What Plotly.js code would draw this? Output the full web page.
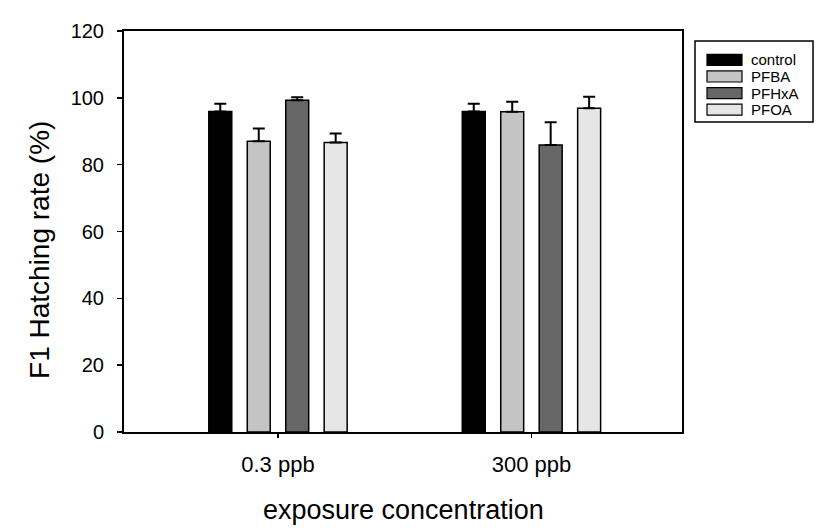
<!DOCTYPE html>
<html>
<head>
<meta charset="utf-8">
<script src="https://cdn.plot.ly/plotly-3.0.1.min.js"></script>
<style>
  html, body { margin: 0; padding: 0; background: #fff; }
  #chart { width: 824px; height: 530px; }
</style>
</head>
<body>
<div id="chart"></div>
<script>
// ---- data ----
var categories = ['0.3 ppb', '300 ppb'];
var seriesNames = ['control', 'PFBA', 'PFHxA', 'PFOA'];
var controlValues = [95.9, 95.9];
var controlErr = [2.3, 2.3];
var pfbaValues = [87.0, 95.8];
var pfbaErr = [3.8, 3.0];
var pfhxaValues = [99.3, 85.9];
var pfhxaErr = [0.9, 6.8];
var pfoaValues = [86.6, 96.9];
var pfoaErr = [2.7, 3.4];
var yTickValues = [0, 20, 40, 60, 80, 100, 120];

// ---- style ----
var fillColors = ['#000000', '#c4c4c4', '#676767', '#e6e6e6'];
var FONT = '"Liberation Sans", Arial, sans-serif';

var values = [controlValues, pfbaValues, pfhxaValues, pfoaValues];
var errs = [controlErr, pfbaErr, pfhxaErr, pfoaErr];

var traces = seriesNames.map(function (name, i) {
  return {
    type: 'bar',
    name: name,
    x: categories,
    y: values[i],
    marker: { color: fillColors[i], line: { color: '#000', width: 1.5 } },
    error_y: {
      type: 'data',
      symmetric: false,
      array: errs[i],
      arrayminus: errs[i].map(function () { return 0; }),
      color: '#000',
      thickness: 2,
      width: 6
    },
    showlegend: false,
    hoverinfo: 'skip'
  };
});

// custom legend (box + swatches + labels), paper coordinates
var shapes = [{
  type: 'rect', xref: 'paper', yref: 'paper',
  x0: 1.0233, x1: 1.2348, y0: 0.773, y1: 0.975,
  line: { color: '#000', width: 1.5 }, fillcolor: 'rgba(0,0,0,0)'
}];
var annotations = [];
var rowTop = 0.928, rowStep = 0.0414, swH = 0.0275;
seriesNames.forEach(function (name, i) {
  var yc = rowTop - i * rowStep;
  shapes.push({
    type: 'rect', xref: 'paper', yref: 'paper',
    x0: 1.0448, x1: 1.1075, y0: yc - swH / 2, y1: yc + swH / 2,
    line: { color: '#000', width: 1.2 }, fillcolor: fillColors[i]
  });
  annotations.push({
    xref: 'paper', yref: 'paper', x: 1.1200, y: yc,
    xanchor: 'left', yanchor: 'middle', showarrow: false,
    text: name, font: { family: FONT, size: 15, color: '#000' }
  });
});

// axis titles
annotations.push({
  xref: 'paper', yref: 'paper', x: -0.1505, y: 0.454,
  xanchor: 'center', yanchor: 'middle', showarrow: false, textangle: -90,
  text: 'F1 Hatching rate (%)', font: { family: FONT, size: 28, color: '#000' }
});
annotations.push({
  xref: 'paper', yref: 'paper', x: 0.5, y: -0.1945,
  xanchor: 'center', yanchor: 'middle', showarrow: false,
  text: 'exposure concentration', font: { family: FONT, size: 27, color: '#000' }
});

var layout = {
  width: 824, height: 530,
  margin: { l: 124, r: 142, t: 31, b: 98 },
  paper_bgcolor: '#fff', plot_bgcolor: '#fff',
  barmode: 'group',
  bargap: 0.393,
  bargroupgap: 0.403,
  showlegend: false,
  font: { family: FONT, color: '#000' },
  xaxis: {
    type: 'category',
    range: [-0.6075, 1.594],
    showline: true, linecolor: '#000', linewidth: 2, mirror: true,
    ticks: 'outside', ticklen: 4, tickwidth: 1.5, tickcolor: '#000',
    tickfont: { family: FONT, size: 22, color: '#000' },
    ticklabelstandoff: 8,
    showgrid: false, zeroline: false, fixedrange: true
  },
  yaxis: {
    range: [0, 120],
    tickvals: yTickValues,
    showline: true, linecolor: '#000', linewidth: 2, mirror: true,
    ticks: 'outside', ticklen: 5, tickwidth: 1.5, tickcolor: '#000',
    tickfont: { family: FONT, size: 20, color: '#000' },
    ticklabelstandoff: 9,
    showgrid: false, zeroline: false, fixedrange: true
  },
  shapes: shapes,
  annotations: annotations
};

Plotly.newPlot('chart', traces, layout, { staticPlot: true, displayModeBar: false });
</script>
</body>
</html>
